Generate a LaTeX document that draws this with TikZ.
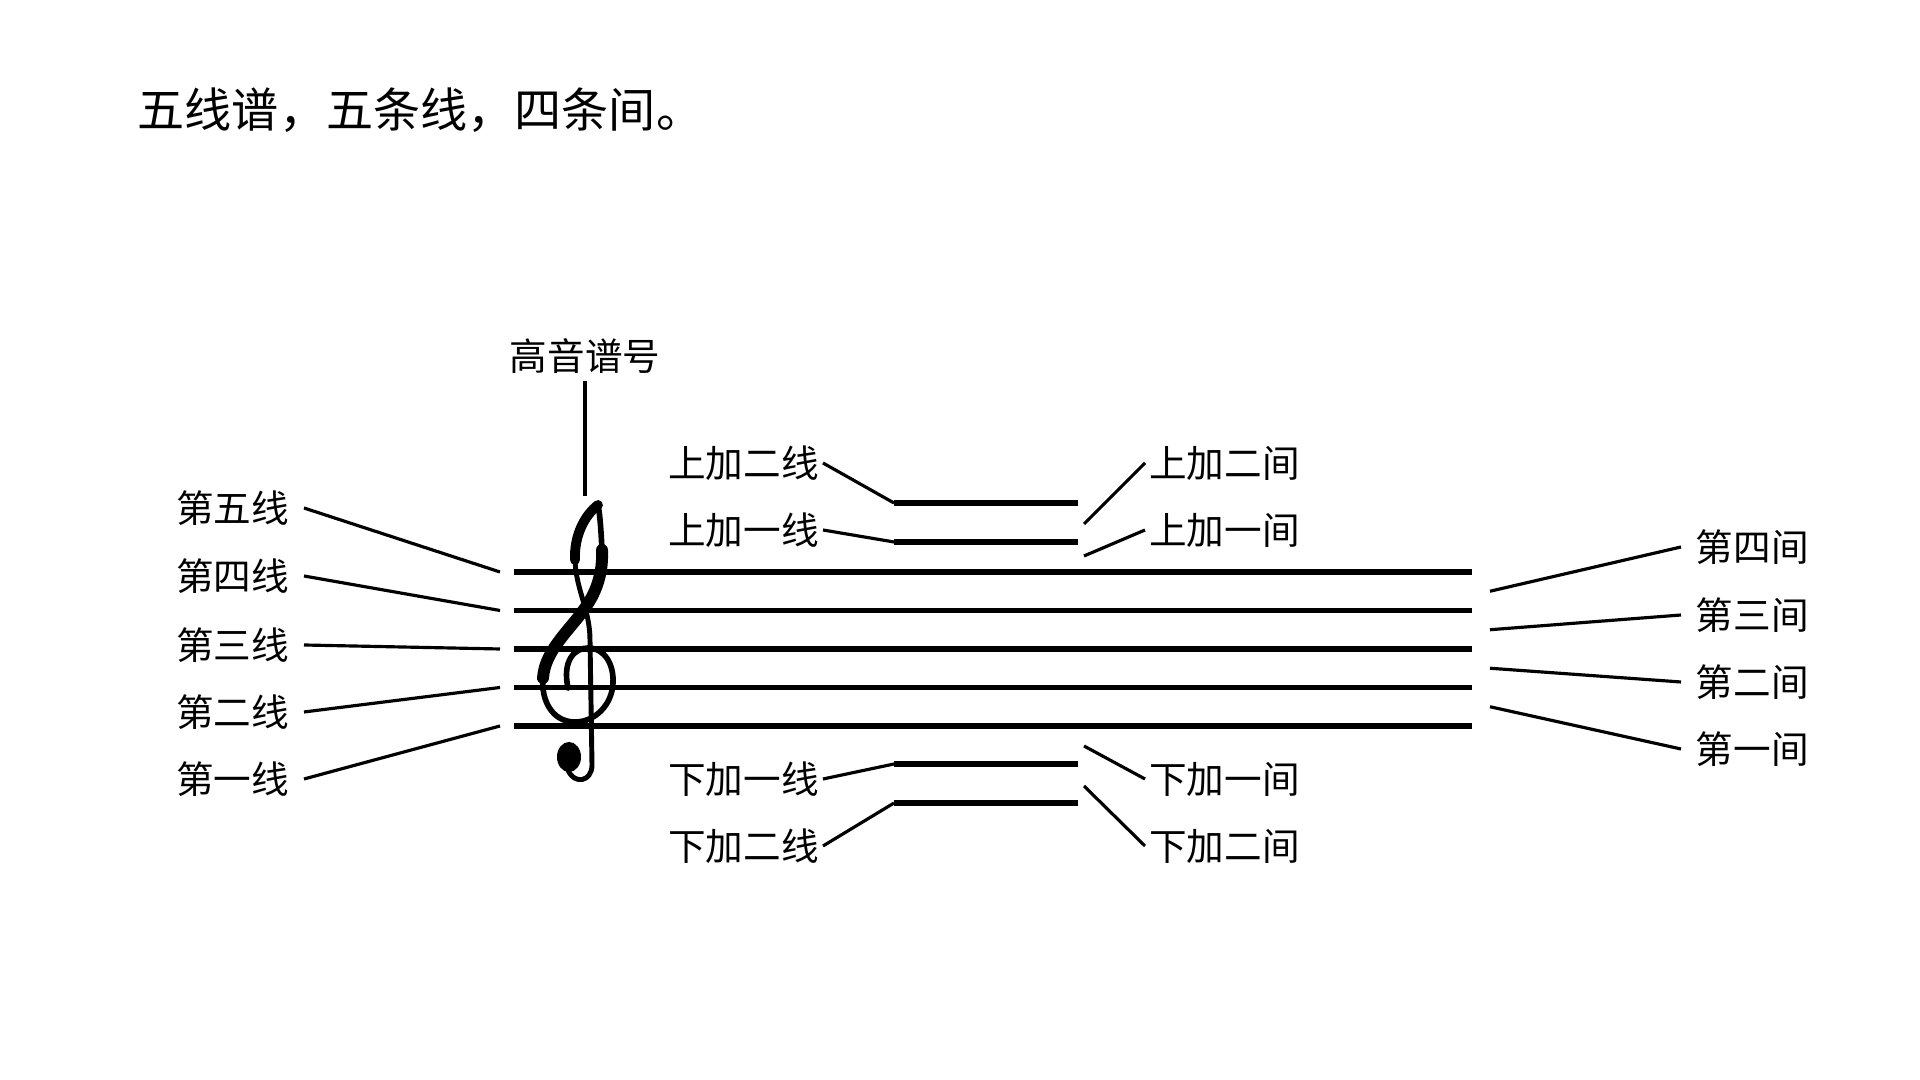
\documentclass[tikz,border=0pt]{standalone}
\usepackage{fontspec}
\setmainfont{Noto Sans CJK SC}

\tikzset{
  staffline/.style={line width=1.6pt},
  pointer/.style={line width=0.9pt},
  lbl/.style={font=\fontsize{10.7}{12}\selectfont, inner sep=4pt},
  ledgerlbl/.style={lbl, inner sep=1pt},
}

\begin{document}
\begin{tikzpicture}[x=0.01cm,y=-0.01cm]
\useasboundingbox (0,0) rectangle (1920,1080);

\def\staffL{514}
\def\staffR{1472}
\def\staffTop{572}
\def\gap{38.5}
\def\ledgerL{894}
\def\ledgerR{1078}
\def\stubL{500}
\def\stubR{1490}
\def\tipR{1084}

% title
\node[anchor=west, inner sep=0pt, font=\fontsize{13.4}{15}\selectfont] (title) at (137,110) {五线谱，五条线，四条间。};

% staff
\foreach \i in {1,...,5}{
  \coordinate (sw\i) at (\staffL,{\staffTop+(5-\i)*\gap});
  \coordinate (se\i) at (\staffR,{\staffTop+(5-\i)*\gap});
  \coordinate (a\i) at (\stubL,{\staffTop+(5-\i)*\gap});
  \draw[staffline] (sw\i) -- (se\i);
}
% spaces
\foreach \i in {1,...,4}
  \coordinate (b\i) at (\stubR,{\staffTop+(4.5-\i)*\gap});

% ledger lines
\coordinate (uw1) at (\ledgerL,542); \coordinate (ue1) at (\ledgerR,542);
\coordinate (uw2) at (\ledgerL,503); \coordinate (ue2) at (\ledgerR,503);
\coordinate (dw1) at (\ledgerL,764); \coordinate (de1) at (\ledgerR,764);
\coordinate (dw2) at (\ledgerL,803); \coordinate (de2) at (\ledgerR,803);
\draw[staffline] (uw1) -- (ue1) (uw2) -- (ue2) (dw1) -- (de1) (dw2) -- (de2);
\coordinate (su2) at (\tipR,524);
\coordinate (su1) at (\tipR,556);
\coordinate (sd1) at (\tipR,746);
\coordinate (sd2) at (\tipR,786);

% clef
\begin{scope}[line cap=round, line join=round]
  % bowl
  \draw[line width=1.6pt] (568,688) .. controls (562,660) and (575,648) .. (588,648)
    .. controls (605,648) and (614,665) .. (613,683)
    .. controls (612,705) and (595,722) .. (575,722)
    .. controls (552,722) and (541,700) .. (543,678);
  % diagonal
  \draw[line width=3.4pt] (543,678) .. controls (545,650) and (570,630) .. (585,608)
    .. controls (598,590) and (603,570) .. (602,550);
  \draw[line width=1.6pt] (602,550) .. controls (601,530) and (600,515) .. (598,505);
  % loop
  \draw[line width=2.8pt] (598,505) .. controls (585,515) and (574,535) .. (575,560);
  % stem
  \draw[line width=1.4pt] (575,560) .. controls (576,590) and (590,610) .. (590,640)
    -- (592,765) .. controls (592,782) and (574,785) .. (568,770);
  \fill (569,757) ellipse [x radius=12, y radius=15];
\end{scope}
\node[lbl, inner sep=2pt] (clefname) at (585,356) {高音谱号};
\coordinate (cleftip) at (585,496);
\draw[pointer] (clefname.south) -- (cleftip);

% left: lines
\node[lbl, anchor=east] (l5) at (304,508) {第五线};
\node[lbl, anchor=east] (l4) at (304,576) {第四线};
\node[lbl, anchor=east] (l3) at (304,645) {第三线};
\node[lbl, anchor=east] (l2) at (304,712) {第二线};
\node[lbl, anchor=east] (l1) at (304,779) {第一线};
\foreach \i in {1,...,5}
  \draw[pointer] (l\i.east) -- (a\i);

% right: spaces
\node[lbl, anchor=west] (r4) at (1681,547) {第四间};
\node[lbl, anchor=west] (r3) at (1681,615) {第三间};
\node[lbl, anchor=west] (r2) at (1681,682) {第二间};
\node[lbl, anchor=west] (r1) at (1681,749) {第一间};
\foreach \i in {1,...,4}
  \draw[pointer] (r\i.west) -- (b\i);

% ledger names
\node[ledgerlbl, anchor=east] (ul2) at (823,463) {上加二线};
\node[ledgerlbl, anchor=east] (ul1) at (823,530) {上加一线};
\node[ledgerlbl, anchor=east] (dl1) at (823,779) {下加一线};
\node[ledgerlbl, anchor=east] (dl2) at (823,846) {下加二线};
\draw[pointer] (ul2.east) -- (uw2) (ul1.east) -- (uw1) (dl1.east) -- (dw1) (dl2.east) -- (dw2);

\node[ledgerlbl, anchor=west] (us2) at (1145,463) {上加二间};
\node[ledgerlbl, anchor=west] (us1) at (1145,530) {上加一间};
\node[ledgerlbl, anchor=west] (ds1) at (1145,779) {下加一间};
\node[ledgerlbl, anchor=west] (ds2) at (1145,846) {下加二间};
\draw[pointer] (us2.west) -- (su2) (us1.west) -- (su1) (ds1.west) -- (sd1) (ds2.west) -- (sd2);

\end{tikzpicture}
\end{document}
